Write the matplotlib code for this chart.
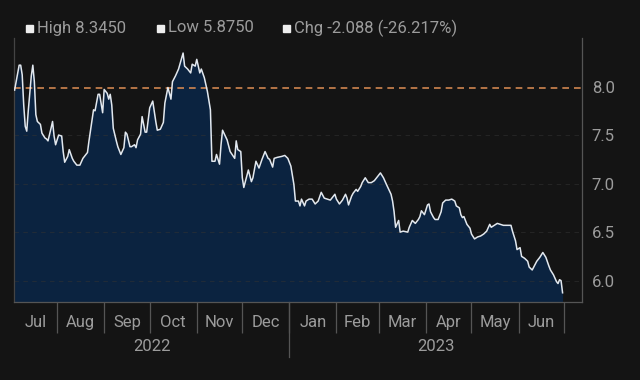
import numpy as np
import pandas as pd
import matplotlib
matplotlib.use("Agg")
import matplotlib.pyplot as plt
from matplotlib.patches import Rectangle
import matplotlib.transforms as mtransforms

plt.rcParams['font.family'] = ['Roboto', 'DejaVu Sans']

# dias contados desde el 1 de julio de 2022
start = pd.Timestamp('2022-07-01')
days = [3, 6, 7, 8, 9, 10, 11, 12, 14, 15, 16, 17, 18, 20, 21, 23, 24, 25, 27, 28,
        29, 30, 32, 34, 35, 36, 38, 39, 41, 42, 44, 46, 48, 51, 52, 55, 56, 58, 59, 61,
        62, 64, 65, 66, 67, 68, 70, 71, 73, 75, 76, 77, 79, 80, 82, 83, 84, 86, 87, 89,
        90, 92, 94, 96, 97, 99, 101, 102, 104, 106, 107, 109, 111, 114, 115, 117, 119, 120, 122, 123,
        125, 126, 128, 130, 132, 133, 135, 136, 138, 139, 140, 143, 145, 148, 149, 150, 152, 153, 154, 156,
        157, 159, 160, 162, 164, 166, 168, 170, 171, 173, 174, 176, 179, 181, 183, 185, 187, 188, 190, 191,
        192, 194, 195, 197, 199, 201, 203, 205, 207, 209, 211, 212, 214, 215, 217, 219, 221, 222, 223, 225,
        226, 228, 229, 231, 232, 234, 236, 238, 240, 242, 244, 246, 248, 251, 252, 253, 254, 256, 257, 259,
        262, 263, 265, 267, 269, 270, 271, 273, 275, 276, 277, 279, 280, 282, 284, 285, 287, 289, 291, 293,
        294, 296, 297, 298, 299, 301, 303, 304, 306, 308, 310, 312, 314, 316, 317, 319, 321, 323, 325, 328,
        330, 331, 333, 334, 336, 337, 339, 341, 342, 344, 345, 347, 349, 351, 353, 355, 356, 358, 360, 361,
        362, 363, 364]
values = [7.963, 8.22, 8.22, 8.12, 7.81, 7.59, 7.54, 7.75, 8.11, 8.22, 8.05, 7.71, 7.64, 7.61, 7.52, 7.47, 7.46, 7.44, 7.57, 7.64,
          7.49, 7.40, 7.50, 7.49, 7.33, 7.22, 7.28, 7.35, 7.26, 7.23, 7.19, 7.19, 7.26, 7.32, 7.44, 7.76, 7.75, 7.92, 7.92, 7.73,
          7.97, 7.93, 7.87, 7.92, 7.81, 7.57, 7.44, 7.38, 7.30, 7.37, 7.53, 7.51, 7.38, 7.38, 7.40, 7.37, 7.45, 7.51, 7.69, 7.53,
          7.53, 7.78, 7.85, 7.64, 7.55, 7.56, 7.63, 7.83, 7.99, 7.87, 8.05, 8.11, 8.18, 8.345, 8.21, 8.18, 8.14, 8.23, 8.21, 8.28,
          8.14, 8.18, 8.09, 7.95, 7.76, 7.23, 7.23, 7.30, 7.20, 7.40, 7.55, 7.45, 7.33, 7.26, 7.44, 7.35, 7.33, 7.06, 6.96, 7.08,
          7.14, 7.02, 7.06, 7.23, 7.16, 7.25, 7.33, 7.26, 7.25, 7.17, 7.26, 7.27, 7.28, 7.29, 7.26, 7.18, 6.99, 6.82, 6.82, 6.77,
          6.84, 6.77, 6.82, 6.84, 6.84, 6.79, 6.82, 6.91, 6.85, 6.84, 6.83, 6.85, 6.89, 6.84, 6.79, 6.83, 6.89, 6.85, 6.78, 6.87,
          6.90, 6.94, 6.92, 6.97, 7.01, 7.06, 7.01, 7.01, 7.03, 7.07, 7.11, 7.06, 6.99, 6.89, 6.82, 6.71, 6.55, 6.62, 6.50, 6.51,
          6.50, 6.55, 6.62, 6.59, 6.63, 6.66, 6.72, 6.68, 6.78, 6.79, 6.71, 6.65, 6.63, 6.63, 6.71, 6.80, 6.83, 6.83, 6.84, 6.82,
          6.77, 6.75, 6.68, 6.65, 6.66, 6.58, 6.54, 6.48, 6.43, 6.45, 6.46, 6.48, 6.51, 6.58, 6.55, 6.57, 6.59, 6.58, 6.57, 6.57,
          6.57, 6.51, 6.41, 6.32, 6.34, 6.25, 6.23, 6.20, 6.14, 6.11, 6.14, 6.20, 6.24, 6.29, 6.24, 6.15, 6.11, 6.06, 5.99, 5.97,
          6.01, 6.00, 5.875]

ref_level = 7.98
yticks = [6.0, 6.5, 7.0, 7.5, 8.0]
month_names = ['Jul', 'Aug', 'Sep', 'Oct', 'Nov', 'Dec', 'Jan', 'Feb', 'Mar', 'Apr', 'May', 'Jun']
years = ['2022', '2023']
legend_items = ['High 8.3450', 'Low 5.8750', 'Chg -2.088 (-26.217%)']

bg = '#141414'
txt = '#9c9c9c'
edge = '#555555'
fs = 12

dates = start + pd.to_timedelta(days, unit='D')
x_left = start + pd.Timedelta(days=2.6)
x_right = start + pd.Timedelta(days=376.8)
y_bottom, y_top = 5.78, 8.50

fig = plt.figure(figsize=(6.4, 3.8), dpi=100, facecolor=bg)
ax = fig.add_axes([14 / 640, 1 - 302 / 380, 568 / 640, 264 / 380])
ax.set_facecolor(bg)

ax.fill_between(dates, values, y_bottom, color='#0b2340', zorder=1, linewidth=0)
for yv in yticks[:-1]:
    ax.axhline(yv, color='#333333', lw=0.8, dashes=(4, 4), alpha=0.55, zorder=2)
ax.axhline(ref_level, color='#d08650', lw=1.2, dashes=(4, 3), zorder=3)
ax.plot(dates, values, color='#e2e8ef', lw=1.1, zorder=4)

ax.set_xlim(x_left, x_right)
ax.set_ylim(y_bottom, y_top)

# eje y a la derecha
ax.yaxis.tick_right()
ax.set_yticks(yticks)
ax.set_yticklabels([f'{v:.1f}' for v in yticks], color=txt, fontsize=fs)
ax.tick_params(axis='y', length=0, pad=7)

# separadores de meses
month_starts = pd.date_range('2022-08-01', '2023-07-01', freq='MS')
ax.set_xticks(month_starts)
ax.set_xticklabels([])
ax.tick_params(axis='x', length=22, width=0.9, color=edge, direction='out')

trans = mtransforms.blended_transform_factory(ax.transData, ax.transAxes)
bounds = [x_left] + list(month_starts)
for i, name in enumerate(month_names):
    mid = bounds[i] + (bounds[i + 1] - bounds[i]) / 2
    ax.text(mid, -0.076, name, transform=trans, ha='center', va='center',
            color=txt, fontsize=fs)

jan = pd.Timestamp('2023-01-01')
ax.plot([jan, jan], [0, -0.21], transform=trans, color=edge, lw=0.9, clip_on=False)
ax.text(x_left + (jan - x_left) / 2, -0.17, years[0], transform=trans,
        ha='center', va='center', color=txt, fontsize=fs)
ax.text(jan + (x_right - jan) / 2, -0.17, years[1], transform=trans,
        ha='center', va='center', color=txt, fontsize=fs)

for side in ['left', 'bottom', 'right']:
    ax.spines[side].set_color(edge)
    ax.spines[side].set_linewidth(0.9)
ax.spines['left'].set_color('#444444')
ax.spines['top'].set_visible(False)

# leyenda superior
sq_x = [26, 157, 283]
for sx, label in zip(sq_x, legend_items):
    fig.patches.append(Rectangle((sx / 640, 1 - 32 / 380), 7 / 640, 7 / 380,
                                 transform=fig.transFigure, color='#eeeeee'))
    fig.text((sx + 11) / 640, 1 - 28 / 380, label, ha='left', va='center',
             color=txt, fontsize=fs)

fig.savefig('out.png', dpi=100, facecolor=bg)
